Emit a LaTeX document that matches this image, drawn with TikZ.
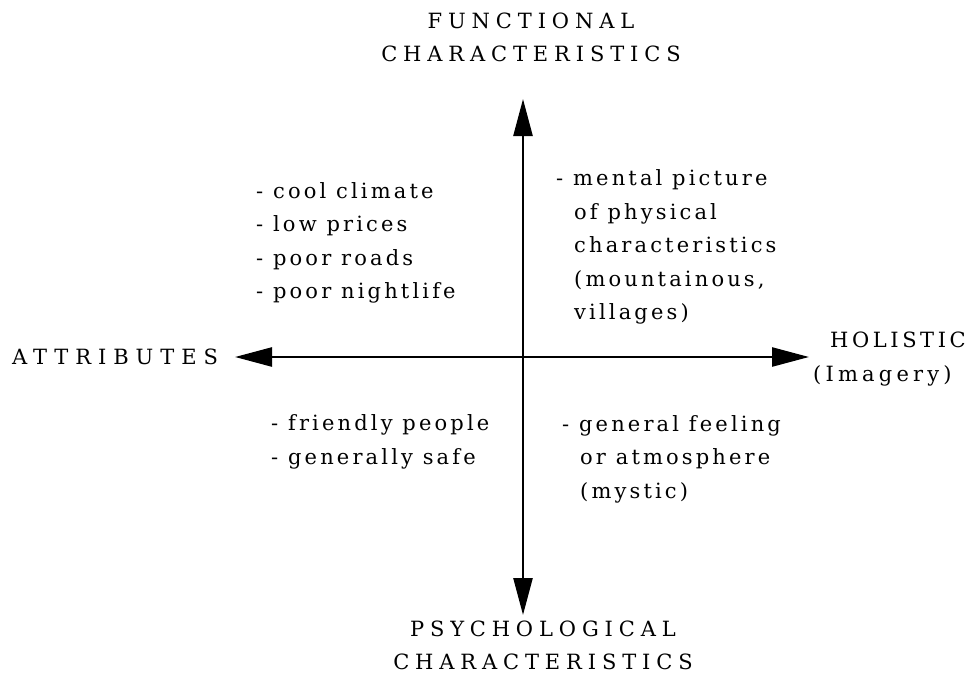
\documentclass[tikz,border=0pt]{standalone}
\usepackage{fontspec}
\setmainfont{DejaVu Serif}[LetterSpace=15]
\newfontfamily\capsfont{DejaVu Serif}[LetterSpace=28]
\newfontfamily\widecapsfont{DejaVu Serif}[LetterSpace=33]
\newfontfamily\midcapsfont{DejaVu Serif}[LetterSpace=17]
\usetikzlibrary{arrows.meta}
\begin{document}
\begin{tikzpicture}[x=1pt,y=-1pt,
  txt/.style={font=\fontsize{21}{33.5}\selectfont, inner sep=0pt, align=left},
  ttl/.style={font=\capsfont\fontsize{21}{33}\selectfont, inner sep=0pt, align=center},
  axis/.style={line width=2.5pt, -{Triangle[length=37pt,width=19pt]}}]
\useasboundingbox (0,0) rectangle (968,674);
\fill[white] (0,0) rectangle (968,674);

% axes
\coordinate (o) at (523,357);
\coordinate (n) at (523,99);
\coordinate (s) at (523,615);
\coordinate (w) at (235,357);
\coordinate (e) at (809,357);
\draw[axis] (o) -- (n);
\draw[axis] (o) -- (s);
\draw[axis] (o) -- (w);
\draw[axis] (o) -- (e);

% axis titles
\node[ttl] (top) at (531,37) {FUNCTIONAL\\CHARACTERISTICS};
\node[ttl] (bottom) at (543,645) {PSYCHOLOGICAL\\CHARACTERISTICS};
\node[ttl, font=\widecapsfont\fontsize{21}{33}\selectfont, anchor=west] (left) at (12,357) {ATTRIBUTES};
\node[txt, anchor=west] (right) at (813,359) {\hspace*{17pt}{\midcapsfont HOLISTIC}\\{\addfontfeature{LetterSpace=20}(Imagery)}};

% quadrant lists
\node[txt, anchor=west] (ul) at (256,243) {- cool climate\\- low prices\\- poor roads\\- poor nightlife};
\node[txt, anchor=west] (ur) at (556,247) {- mental picture\\\hspace*{18pt}of physical\\\hspace*{18pt}characteristics\\\hspace*{18pt}(mountainous,\\\hspace*{18pt}villages)};
\node[txt, anchor=west] (ll) at (271,442) {- friendly people\\- generally safe};
\node[txt, anchor=west] (lr) at (562,459) {- general feeling\\\hspace*{18pt}or atmosphere\\\hspace*{18pt}(mystic)};
\end{tikzpicture}
\end{document}
